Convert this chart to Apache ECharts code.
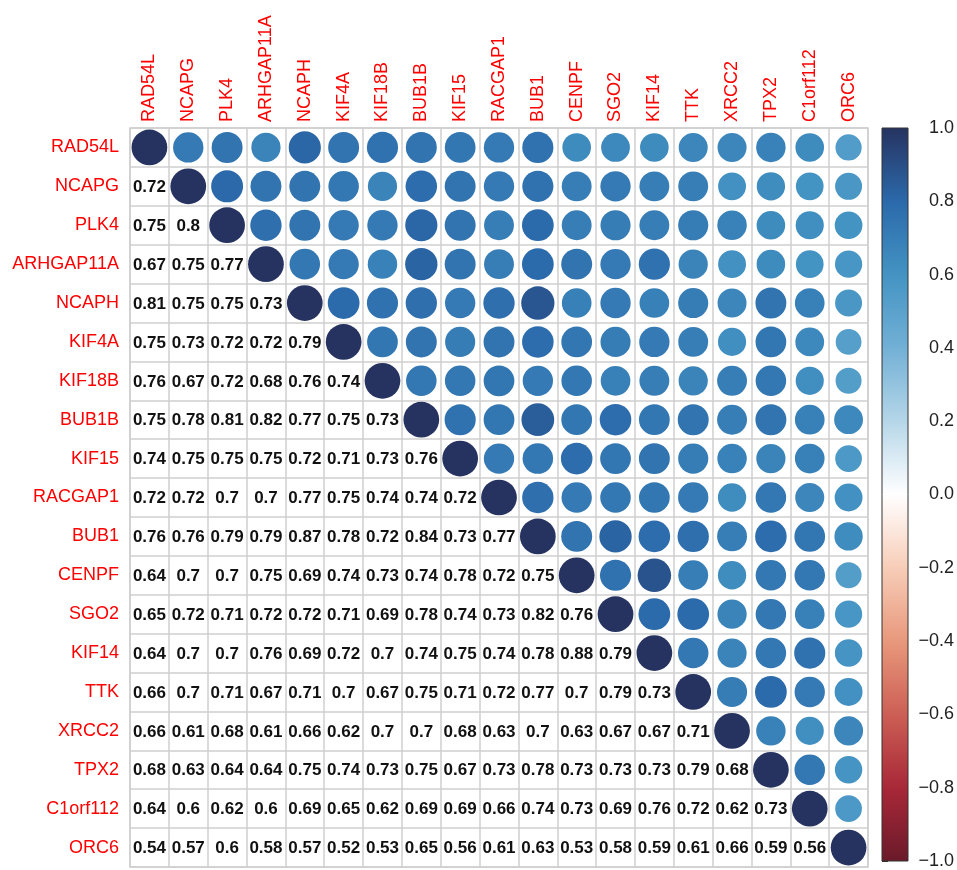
<!DOCTYPE html>
<html>
<head>
<meta charset="utf-8">
<script src="https://cdn.jsdelivr.net/npm/echarts@6/dist/echarts.min.js"></script>
<style>html,body{margin:0;padding:0;background:#fff}#c{width:957px;height:870px}</style>
</head>
<body>
<div id="c"></div>
<script>
var genes = ['RAD54L','NCAPG','PLK4','ARHGAP11A','NCAPH','KIF4A','KIF18B','BUB1B','KIF15','RACGAP1','BUB1','CENPF','SGO2','KIF14','TTK','XRCC2','TPX2','C1orf112','ORC6'];

// lower triangle rows (row i has i values, columns 0..i-1)
var row_NCAPG = [0.72];
var row_PLK4 = [0.75,0.8];
var row_ARHGAP11A = [0.67,0.75,0.77];
var row_NCAPH = [0.81,0.75,0.75,0.73];
var row_KIF4A = [0.75,0.73,0.72,0.72,0.79];
var row_KIF18B = [0.76,0.67,0.72,0.68,0.76,0.74];
var row_BUB1B = [0.75,0.78,0.81,0.82,0.77,0.75,0.73];
var row_KIF15 = [0.74,0.75,0.75,0.75,0.72,0.71,0.73,0.76];
var row_RACGAP1 = [0.72,0.72,0.7,0.7,0.77,0.75,0.74,0.74,0.72];
var row_BUB1 = [0.76,0.76,0.79,0.79,0.87,0.78,0.72,0.84,0.73,0.77];
var row_CENPF = [0.64,0.7,0.7,0.75,0.69,0.74,0.73,0.74,0.78,0.72,0.75];
var row_SGO2 = [0.65,0.72,0.71,0.72,0.72,0.71,0.69,0.78,0.74,0.73,0.82,0.76];
var row_KIF14 = [0.64,0.7,0.7,0.76,0.69,0.72,0.7,0.74,0.75,0.74,0.78,0.88,0.79];
var row_TTK = [0.66,0.7,0.71,0.67,0.71,0.7,0.67,0.75,0.71,0.72,0.77,0.7,0.79,0.73];
var row_XRCC2 = [0.66,0.61,0.68,0.61,0.66,0.62,0.7,0.7,0.68,0.63,0.7,0.63,0.67,0.67,0.71];
var row_TPX2 = [0.68,0.63,0.64,0.64,0.75,0.74,0.73,0.75,0.67,0.73,0.78,0.73,0.73,0.73,0.79,0.68];
var row_C1orf112 = [0.64,0.6,0.62,0.6,0.69,0.65,0.62,0.69,0.69,0.66,0.74,0.73,0.69,0.76,0.72,0.62,0.73];
var row_ORC6 = [0.54,0.57,0.6,0.58,0.57,0.52,0.53,0.65,0.56,0.61,0.63,0.53,0.58,0.59,0.61,0.66,0.59,0.56];

var lowerRows = [[], row_NCAPG, row_PLK4, row_ARHGAP11A, row_NCAPH, row_KIF4A, row_KIF18B, row_BUB1B, row_KIF15, row_RACGAP1, row_BUB1, row_CENPF, row_SGO2, row_KIF14, row_TTK, row_XRCC2, row_TPX2, row_C1orf112, row_ORC6];

// palette (value -1 .. 1)
var palStops = [-1,-0.8,-0.6,-0.4,-0.2,0,0.2,0.4,0.6,0.8,1];
var palColors = ['#6a1a2a','#a82838','#cc5f55','#e8987c','#f7cdb8','#ffffff','#b5d6e8','#72b0d5','#4393c3','#2b69aa','#263360'];

function hex2rgb(h){return [parseInt(h.substr(1,2),16),parseInt(h.substr(3,2),16),parseInt(h.substr(5,2),16)];}
function colorFor(v){
  for (var i=0;i<palStops.length-1;i++){
    if (v<=palStops[i+1]){
      var t=(v-palStops[i])/(palStops[i+1]-palStops[i]);
      var a=hex2rgb(palColors[i]), b=hex2rgb(palColors[i+1]);
      return 'rgb('+Math.round(a[0]+(b[0]-a[0])*t)+','+Math.round(a[1]+(b[1]-a[1])*t)+','+Math.round(a[2]+(b[2]-a[2])*t)+')';
    }
  }
  return palColors[palColors.length-1];
}

var n = genes.length;
var circleData = [], textData = [];
for (var i=0;i<n;i++){
  for (var j=0;j<n;j++){
    if (j<i) textData.push([j,i,lowerRows[i][j]]);
    else if (j===i) circleData.push([j,i,1]);
    else circleData.push([j,i,lowerRows[j][i]]);
  }
}

var FONT = '"Liberation Sans", Arial, Helvetica, sans-serif';
var chart = echarts.init(document.getElementById('c'), null, {renderer:'canvas'});
var gradStops = [];
for (var k=palStops.length-1;k>=0;k--) gradStops.push({offset:(1-palStops[k])/2, color:palColors[k]});

chart.setOption({
  animation:false,
  backgroundColor:'#fff',
  grid:[
    {left:130, top:128, width:738, height:739, show:true, borderColor:'#cfcfcf', borderWidth:1.5, backgroundColor:'transparent'},
    {left:882, top:128, width:28, height:739}
  ],
  xAxis:[
    {type:'category', data:genes, position:'top', gridIndex:0,
     axisLine:{show:false}, axisTick:{show:false},
     splitLine:{show:true, interval:0, lineStyle:{color:'#cfcfcf', width:1.5}},
     axisLabel:{interval:0, rotate:-90, color:'#ff0000', fontSize:18, fontFamily:FONT, margin:6}},
    {type:'value', gridIndex:1, min:0, max:1, show:false}
  ],
  yAxis:[
    {type:'category', data:genes, inverse:true, gridIndex:0,
     axisLine:{show:false}, axisTick:{show:false},
     splitLine:{show:true, interval:0, lineStyle:{color:'#cfcfcf', width:1.5}},
     axisLabel:{interval:0, color:'#ff0000', fontSize:18, fontFamily:FONT, margin:11}},
    {type:'value', gridIndex:1, min:-1, max:1, interval:0.2, position:'right',
     axisLine:{show:false}, splitLine:{show:false},
     axisTick:{show:true, length:6, lineStyle:{color:'#333', width:1}},
     axisLabel:{color:'#222', fontSize:18, fontFamily:FONT, margin:46, align:'right',
       formatter:function(v){var r=Math.round(v*10)/10; return (r<0?'\u2212':'')+Math.abs(r).toFixed(1);}}}
  ],
  series:[
    {type:'custom', xAxisIndex:0, yAxisIndex:0, data:circleData,
     renderItem:function(params, api){
       var c=api.coord([api.value(0),api.value(1)]);
       var s=api.size([1,1]);
       var v=api.value(2);
       var r=Math.min(s[0],s[1])*0.46*Math.sqrt(Math.abs(v));
       return {type:'circle', shape:{cx:c[0],cy:c[1],r:r}, style:{fill:colorFor(v)}};
     }},
    {type:'custom', xAxisIndex:0, yAxisIndex:0, data:textData,
     renderItem:function(params, api){
       var c=api.coord([api.value(0),api.value(1)]);
       return {type:'text', style:{text:String(api.value(2)), x:c[0], y:c[1]+1, align:'center', verticalAlign:'middle',
         fontSize:17, fontWeight:'bold', fontFamily:FONT, fill:'#111'}};
     }},
    {type:'custom', xAxisIndex:1, yAxisIndex:1, data:[[0]],
     renderItem:function(params, api){
       var p0=api.coord([0,1]), p1=api.coord([1,-1]);
       return {type:'rect', shape:{x:p0[0], y:p0[1], width:p1[0]-p0[0], height:p1[1]-p0[1]},
         style:{fill:{type:'linear', x:0, y:0, x2:0, y2:1, colorStops:gradStops}, stroke:'#333', lineWidth:1}};
     }}
  ]
});
</script>
</body>
</html>
